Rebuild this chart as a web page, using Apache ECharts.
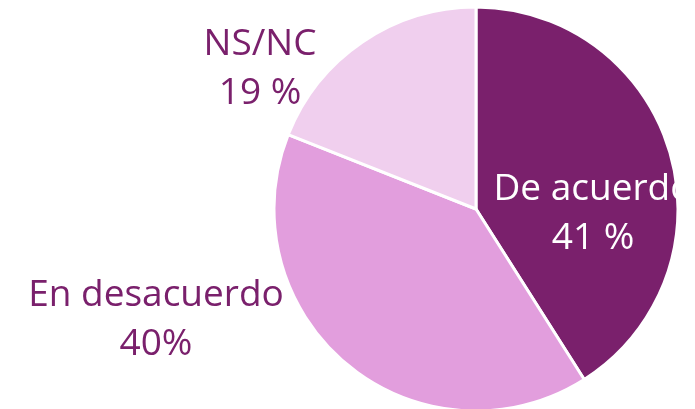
<!DOCTYPE html>
<html>
<head>
<meta charset="utf-8">
<script src="https://cdn.jsdelivr.net/npm/echarts@6/dist/echarts.min.js"></script>
<style>
  html, body { margin: 0; padding: 0; background: #fff; }
  #chart { width: 695px; height: 409px; }
</style>
</head>
<body>
<div id="chart"></div>
<script>
const categories = ['De acuerdo', 'En desacuerdo', 'NS/NC']
const values = [41, 40, 19]
const valueLabels = ['41 %', '40%', '19 %']
const colors = ['#7a206c', '#e29edd', '#f0cfee']

// label anchor points (center of the two-line label)
const labelPos = [[593, 214], [156, 320], [260, 69]]

const chart = echarts.init(document.getElementById('chart'))
chart.setOption({
  animation: false,
  series: [{
    type: 'pie',
    center: [476, 209],
    radius: 202,
    startAngle: 90,
    clockwise: true,
    itemStyle: { borderColor: '#fff', borderWidth: 3 },
    labelLine: { show: false },
    label: {
      show: true,
      position: 'outside',
      fontFamily: 'Open Sans',
      fontSize: 37,
      lineHeight: 49,
      align: 'center',
      formatter: p => p.name + '\n' + valueLabels[p.dataIndex]
    },
    labelLayout: p => ({
      x: labelPos[p.dataIndex][0],
      y: labelPos[p.dataIndex][1],
      align: 'center',
      verticalAlign: 'middle',
      hideOverlap: false
    }),
    data: categories.map((c, i) => ({
      name: c,
      value: values[i],
      itemStyle: { color: colors[i] },
      label: i === 0
        ? { position: 'inside', color: '#fff' }
        : { color: '#7a206c' }
    }))
  }]
})
</script>
</body>
</html>
